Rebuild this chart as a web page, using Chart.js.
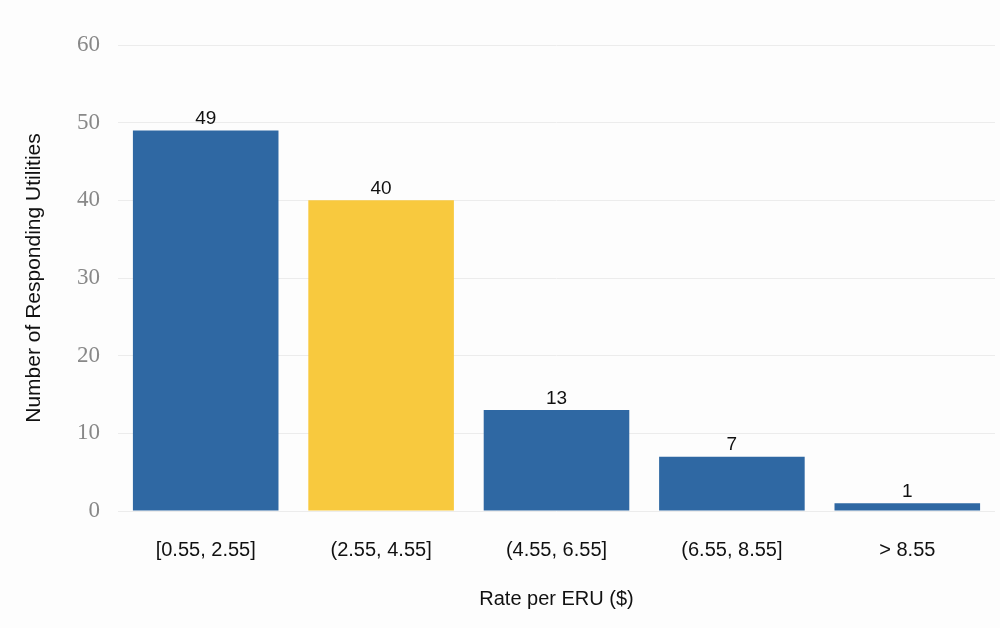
<!DOCTYPE html>
<html>
<head>
<meta charset="utf-8">
<script src="https://cdn.jsdelivr.net/npm/chart.js@4/dist/chart.umd.min.js"></script>
<style>
  html, body { margin: 0; padding: 0; background: #fdfdfd; }
  #wrap { width: 1000px; height: 628px; }
</style>
</head>
<body>
<div id="wrap"><canvas id="chart" width="1000" height="628"></canvas></div>
<script>
// Data
const categories = ['[0.55, 2.55]', '(2.55, 4.55]', '(4.55, 6.55]', '(6.55, 8.55]', '> 8.55'];
const counts = [49, 40, 13, 7, 1];
const barColors = ['#2f68a3', '#f8c93e', '#2f68a3', '#2f68a3', '#2f68a3'];
const yTicks = [0, 10, 20, 30, 40, 50, 60];

// Value labels above each bar
const valueLabels = {
    id: 'valueLabels',
    afterDatasetsDraw(chart) {
        const ctx = chart.ctx;
        const meta = chart.getDatasetMeta(0);
        ctx.save();
        ctx.font = '19px "Liberation Sans", Arial, sans-serif';
        ctx.fillStyle = '#111';
        ctx.textAlign = 'center';
        ctx.textBaseline = 'bottom';
        meta.data.forEach((bar, i) => {
            ctx.fillText(String(counts[i]), bar.x, bar.y - 2);
        });
        ctx.restore();
    }
};

new Chart(document.getElementById('chart').getContext('2d'), {
    type: 'bar',
    data: {
        labels: categories,
        datasets: [{
            data: counts,
            backgroundColor: barColors,
            categoryPercentage: 1,
            barPercentage: 0.83
        }]
    },
    options: {
        responsive: false,
        animation: false,
        layout: { padding: { top: 45, right: 5, bottom: 13, left: 18 } },
        plugins: {
            legend: { display: false },
            tooltip: { enabled: false }
        },
        scales: {
            x: {
                grid: { display: false },
                border: { display: false },
                ticks: {
                    color: '#111',
                    font: { family: '"Liberation Sans", Arial, sans-serif', size: 20 },
                    padding: 19
                },
                title: {
                    display: true,
                    text: 'Rate per ERU ($)',
                    color: '#111',
                    font: { family: '"Liberation Sans", Arial, sans-serif', size: 20 },
                    padding: { top: 6 }
                }
            },
            y: {
                min: 0,
                max: 60,
                afterBuildTicks(axis) {
                    axis.ticks = yTicks.map(v => ({ value: v }));
                },
                afterFit(axis) { axis.width = 100; },
                grid: { color: '#ececec', drawTicks: false },
                border: { display: false },
                ticks: {
                    color: '#888',
                    font: { family: '"Liberation Serif", "Times New Roman", serif', size: 23 },
                    padding: 18
                },
                title: {
                    display: true,
                    text: 'Number of Responding Utilities',
                    color: '#111',
                    font: { family: '"Liberation Sans", Arial, sans-serif', size: 21 },
                    padding: { bottom: 4 }
                }
            }
        }
    },
    plugins: [valueLabels]
});
</script>
</body>
</html>
